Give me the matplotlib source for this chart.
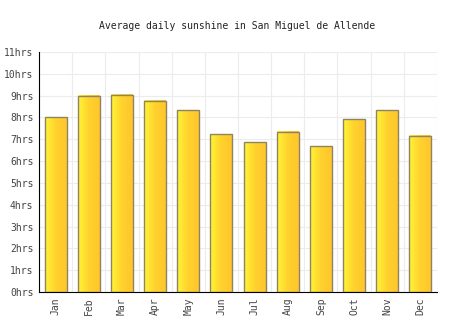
import matplotlib
matplotlib.use("Agg")
from matplotlib import pyplot as plt
from matplotlib.colors import LinearSegmentedColormap
import numpy as np

months = ["Jan", "Feb", "Mar", "Apr", "May", "Jun", "Jul", "Aug", "Sep", "Oct", "Nov", "Dec"]
sunshine = [8.0, 9.0, 9.03, 8.77, 8.34, 7.22, 6.87, 7.34, 6.69, 7.92, 8.34, 7.16]
yticks = list(range(0, 12))
ylabels = [f"{v}hrs" for v in yticks]

plt.rcParams['font.family'] = ['DejaVu Sans Mono']

fig = plt.figure(figsize=(4.74, 3.31), dpi=100)
ax = fig.add_axes([39/474, 1 - 292/331, 398/474, 240/331])

x = np.arange(len(months))
bars = ax.bar(x, sunshine, width=0.66, facecolor="none", edgecolor="#8f8460", linewidth=1.0, zorder=3)

# gradient fill yellow -> orange inside each bar
grad = LinearSegmentedColormap.from_list("sun", ["#fff536", "#ffd22e", "#ffc62c"])
g = np.linspace(0, 1, 64).reshape(1, -1)
for b in bars:
    ax.imshow(g, cmap=grad, aspect="auto", zorder=2,
              extent=[b.get_x(), b.get_x() + b.get_width(), 0, b.get_height()])

ax.set_xlim(-0.5, len(months) - 0.5)
ax.set_ylim(0, 11)
ax.set_xticks(x)
ax.set_xticklabels(months, rotation=90, color="#444444", fontsize=7)
ax.set_yticks(yticks)
ax.set_yticklabels(ylabels, color="#444444", fontsize=7)
ax.tick_params(length=0, pad=4)
ax.set_xticks(np.arange(-0.5, len(months), 1), minor=True)
ax.tick_params(which="minor", length=0)
ax.grid(True, which="minor", axis="x", color="#ececec", linewidth=0.8, zorder=0)
ax.grid(True, which="major", axis="y", color="#ececec", linewidth=0.8, zorder=0)
for s in ["top", "right"]:
    ax.spines[s].set_visible(False)
ax.spines["left"].set_color("black")
ax.spines["bottom"].set_color("black")
ax.set_axisbelow(True)

fig.text(0.5, 1 - 26/331, "Average daily sunshine in San Miguel de Allende",
         ha="center", va="center", fontsize=7, color="#222222")

fig.savefig("out.png", dpi=100)
